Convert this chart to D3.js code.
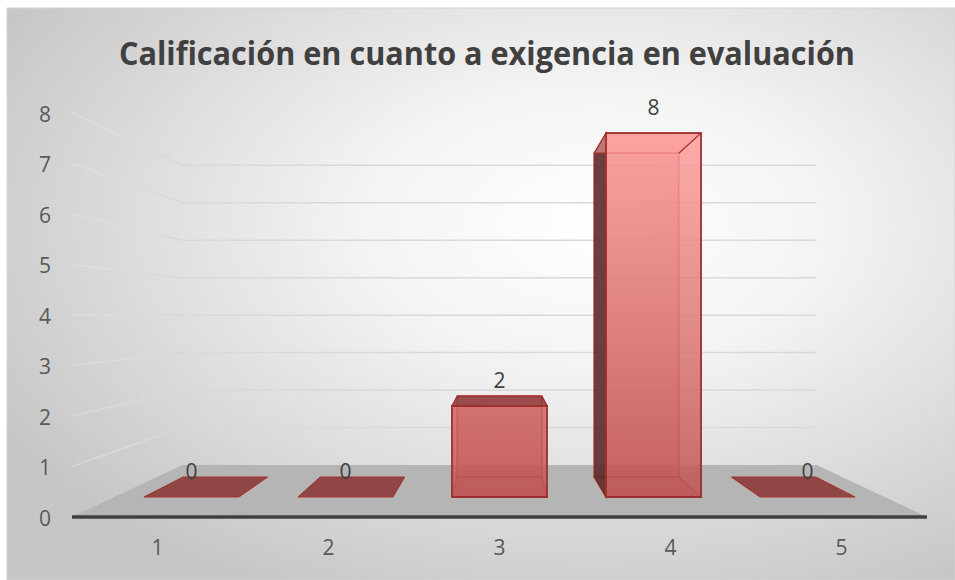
<!DOCTYPE html>
<html>
<head>
<meta charset="utf-8">
<script src="https://cdn.jsdelivr.net/npm/d3@7"></script>
<style>
  html, body { margin: 0; padding: 0; background: #ffffff; }
  svg { display: block; }
  text { font-family: "Open Sans", "DejaVu Sans", sans-serif; }
</style>
</head>
<body>
<svg id="chart" width="955" height="580"></svg>
<script>
// Chart data
const title = "Calificación en cuanto a exigencia en evaluación";
const categories = ["1", "2", "3", "4", "5"];
const values = [0, 0, 2, 8, 0];
const yTicks = [0, 1, 2, 3, 4, 5, 6, 7, 8];

const W = 955, H = 580;
const svg = d3.select("#chart");
const defs = svg.append("defs");

// Perspective setup: the floor front edge is the reference plane (scale 1),
// points further back shrink toward the vanishing point (cx, vy).
const cx = 499.5, floorY = 517, vy = 315.5;
const floorDepth = 0.3477;            // depth of the floor, in camera-distance units
const barZ0 = 0.1102, barZ1 = 0.2477; // front / back of each column

const x = d3.scaleBand().domain(categories)
  .range([-427.5, 427.5]).paddingInner(0.383).paddingOuter(0.1915);
const y = d3.scaleLinear().domain([0, 8]).range([0, 404]);

function project(wx, wh, z) {
  const s = 1 / (1 + z);
  return [cx + wx * s, vy + (floorY - wh - vy) * s];
}
const poly = pts => "M" + pts.map(p => p[0].toFixed(2) + "," + p[1].toFixed(2)).join("L") + "Z";

// Background
const bg = defs.append("radialGradient").attr("id", "bgGrad")
  .attr("cx", 0.62).attr("cy", 0.38).attr("r", 0.72);
bg.append("stop").attr("offset", "0%").attr("stop-color", "#ffffff");
bg.append("stop").attr("offset", "35%").attr("stop-color", "#f3f3f3");
bg.append("stop").attr("offset", "100%").attr("stop-color", "#c6c6c6");
svg.append("rect").attr("x", 7).attr("y", 8).attr("width", W - 7).attr("height", H - 8)
  .attr("fill", "url(#bgGrad)").attr("stroke", "#d4d4d4").attr("stroke-width", 1);

// Title
svg.append("text").attr("x", 487).attr("y", 65)
  .attr("text-anchor", "middle").attr("font-size", 33).attr("font-weight", 700)
  .attr("fill", "#404040").attr("textLength", 736).attr("lengthAdjust", "spacingAndGlyphs")
  .text(title);

// Side-wall gridline gradient (fades toward the front)
const sideGrad = defs.append("linearGradient").attr("id", "sideGrad")
  .attr("gradientUnits", "userSpaceOnUse").attr("x1", 72).attr("x2", 182).attr("y1", 0).attr("y2", 0);
sideGrad.append("stop").attr("offset", "0%").attr("stop-color", "#e6e6e6").attr("stop-opacity", 0.4);
sideGrad.append("stop").attr("offset", "100%").attr("stop-color", "#d6d6d6").attr("stop-opacity", 1);

const [xL, xR] = x.range();
const grid = svg.append("g");
yTicks.filter(v => v > 0).forEach(v => {
  const f = project(xL, y(v), 0), b = project(xL, y(v), floorDepth), r = project(xR, y(v), floorDepth);
  grid.append("path").attr("d", `M${f[0]},${f[1]}L${b[0]},${b[1]}`)
    .attr("stroke", "url(#sideGrad)").attr("stroke-width", 1.5).attr("fill", "none");
  grid.append("path").attr("d", `M${b[0]},${b[1]}L${r[0]},${r[1]}`)
    .attr("stroke", "#d9d9d9").attr("stroke-width", 1.5).attr("fill", "none");
});

// Floor
svg.append("path")
  .attr("d", poly([project(xL, 0, 0), project(xR, 0, 0), project(xR, 0, floorDepth), project(xL, 0, floorDepth)]))
  .attr("fill", "#b5b5b5");

// Category axis line along the front edge of the floor
const a0 = project(xL, 0, 0), a1 = project(xR, 0, 0);
svg.append("line").attr("x1", a0[0]).attr("y1", a0[1]).attr("x2", a1[0]).attr("y2", a1[1])
  .attr("stroke", "#404040").attr("stroke-width", 3.5);

// Front-face gradient of the columns
const frontGrad = defs.append("linearGradient").attr("id", "frontGrad")
  .attr("gradientUnits", "userSpaceOnUse").attr("x1", 0).attr("x2", 0).attr("y1", 132).attr("y2", 497);
frontGrad.append("stop").attr("offset", "0%").attr("stop-color", "#ff9c9a");
frontGrad.append("stop").attr("offset", "100%").attr("stop-color", "#bf504e");

// Columns
const bars = svg.append("g");
categories.forEach((c, i) => {
  const v = values[i];
  const x0 = x(c), x1 = x(c) + x.bandwidth(), h = y(v);
  const P = (wx, wh, z) => project(wx, wh, z);
  const g = bars.append("g");
  if (v === 0) {
    g.append("path")
      .attr("d", poly([P(x0, 0, barZ0), P(x1, 0, barZ0), P(x1, 0, barZ1), P(x0, 0, barZ1)]))
      .attr("fill", "#8c3a38").attr("fill-opacity", 0.9)
      .attr("stroke", "#a3302e").attr("stroke-width", 1);
    return;
  }
  // back face
  g.append("path").attr("d", poly([P(x0, 0, barZ1), P(x1, 0, barZ1), P(x1, h, barZ1), P(x0, h, barZ1)]))
    .attr("fill", "#c0504d").attr("fill-opacity", 0.35).attr("stroke", "#b84644").attr("stroke-width", 1.4);
  // bottom face
  g.append("path").attr("d", poly([P(x0, 0, barZ0), P(x1, 0, barZ0), P(x1, 0, barZ1), P(x0, 0, barZ1)]))
    .attr("fill", "#b04846").attr("fill-opacity", 0.3).attr("stroke", "#b84644").attr("stroke-width", 1.4);
  // side faces seen from the camera
  if (x0 > 0) {
    g.append("path").attr("d", poly([P(x0, 0, barZ0), P(x0, 0, barZ1), P(x0, h, barZ1), P(x0, h, barZ0)]))
      .attr("fill", "#552827").attr("fill-opacity", 0.85).attr("stroke", "#8e2c2a").attr("stroke-width", 1.2);
  }
  if (x1 < 0) {
    g.append("path").attr("d", poly([P(x1, 0, barZ0), P(x1, 0, barZ1), P(x1, h, barZ1), P(x1, h, barZ0)]))
      .attr("fill", "#552827").attr("fill-opacity", 0.85).attr("stroke", "#8e2c2a").attr("stroke-width", 1.2);
  }
  // top face
  const topVisible = (floorY - h) > vy;
  g.append("path").attr("d", poly([P(x0, h, barZ0), P(x1, h, barZ0), P(x1, h, barZ1), P(x0, h, barZ1)]))
    .attr("fill", topVisible ? "#8c3a38" : "#f59795").attr("fill-opacity", topVisible ? 0.85 : 0.6)
    .attr("stroke", "#a3302e").attr("stroke-width", 1.2);
  // front face
  g.append("path").attr("d", poly([P(x0, 0, barZ0), P(x1, 0, barZ0), P(x1, h, barZ0), P(x0, h, barZ0)]))
    .attr("fill", "url(#frontGrad)").attr("fill-opacity", 0.82)
    .attr("stroke", "#9e2f2c").attr("stroke-width", 1.8);
  // right edge of the top face linking front and back
  g.append("path").attr("d", poly([P(x1, h, barZ0), P(x1, h, barZ1)]))
    .attr("stroke", "#a3302e").attr("stroke-width", 1.2).attr("fill", "none");
});

// Value axis labels (placed along the front plane)
svg.append("g").selectAll("text").data(yTicks).join("text")
  .attr("x", 45).attr("y", d => floorY - y(d) + 3)
  .attr("text-anchor", "middle").attr("dominant-baseline", "middle")
  .attr("font-size", 21).attr("fill", "#595959").text(d => d);

// Category labels
svg.append("g").selectAll("text").data(categories).join("text")
  .attr("x", d => cx + x(d) + x.bandwidth() / 2).attr("y", 549)
  .attr("text-anchor", "middle").attr("dominant-baseline", "middle")
  .attr("font-size", 21).attr("fill", "#595959").text(d => d);

// Data labels above each column
svg.append("g").selectAll("text").data(categories).join("text")
  .attr("x", d => project(x(d) + x.bandwidth() / 2, 0, barZ0)[0])
  .attr("y", (d, i) => project(0, y(values[i]), barZ0)[1] - 24)
  .attr("text-anchor", "middle").attr("dominant-baseline", "middle")
  .attr("font-size", 21).attr("fill", "#404040").text((d, i) => values[i]);
</script>
</body>
</html>
